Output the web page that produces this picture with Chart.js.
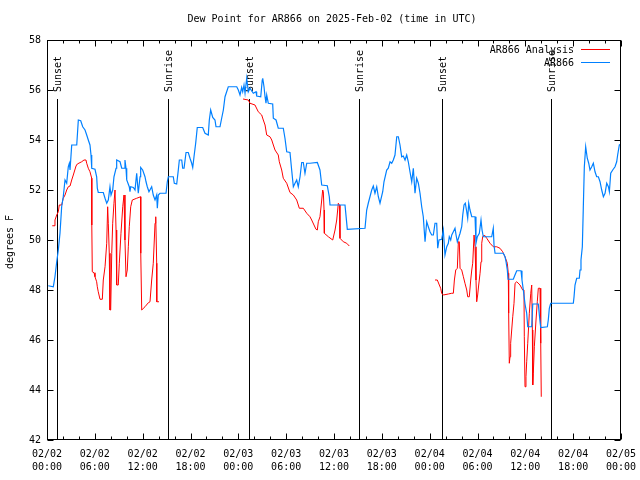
<!DOCTYPE html>
<html lang="en">
<head>
<meta charset="UTF-8">
<title>Dew Point for AR866</title>
<script src="https://cdn.jsdelivr.net/npm/chart.js"></script>
<style>
  body { margin: 0; background: #fff; }
  #wrap { width: 640px; height: 480px; }
</style>
</head>
<body>
<div id="wrap"><canvas id="dewChart" width="640" height="480"></canvas></div>
<script>
// time axis = hours since 02/02 00:00 UTC
const obsHours = [0.16,0.79,1.00,1.22,1.42,1.63,1.84,2.04,2.26,2.47,2.67,2.80,2.89,3.10,3.73,3.93,4.23,4.48,4.77,4.98,5.18,5.39,5.52,5.61,6.02,6.23,6.31,6.43,7.06,7.28,7.49,7.69,7.90,8.03,8.24,8.40,8.66,8.74,9.16,9.37,9.66,9.78,9.91,10.00,10.32,10.41,10.50,10.83,11.04,11.25,11.45,11.67,11.75,12.00,12.29,12.42,12.58,12.79,13.13,13.33,13.55,13.76,13.84,13.96,14.17,14.93,15.09,15.22,15.84,15.97,16.27,16.47,16.60,16.90,17.02,17.19,17.44,17.72,17.94,18.15,18.28,18.44,18.65,18.85,19.53,19.82,20.23,20.36,20.53,20.79,21.07,21.20,21.70,21.91,22.12,22.33,22.74,23.80,24.00,24.21,24.42,24.55,24.71,24.84,25.05,25.25,25.46,25.88,26.22,26.30,26.81,27.00,27.06,27.22,27.35,27.47,27.56,27.76,28.31,28.39,28.73,29.01,29.64,29.85,30.07,30.48,30.69,30.90,31.11,31.32,31.52,31.74,31.95,32.15,32.36,32.58,32.99,33.91,34.24,34.46,35.16,35.41,35.50,37.38,37.67,39.89,40.10,40.30,40.73,40.93,41.14,41.36,41.56,41.77,42.11,42.27,42.61,42.81,43.03,43.24,43.44,43.65,43.87,44.07,44.28,44.49,44.69,44.91,45.12,45.32,45.53,45.75,45.95,46.16,46.37,46.58,46.79,47.00,47.20,47.42,47.63,47.83,48.04,48.26,48.46,48.67,48.88,49.01,49.17,49.51,49.71,49.92,50.14,50.34,50.46,50.64,50.77,50.97,51.18,51.31,51.47,51.81,52.02,52.15,52.31,52.47,52.65,52.77,52.90,53.06,53.28,53.69,53.81,53.98,54.23,54.44,54.57,54.73,55.16,55.78,55.98,56.07,56.20,57.24,57.45,57.58,57.74,57.83,58.49,58.70,58.92,59.46,59.58,59.75,59.96,60.17,60.30,60.80,60.93,61.63,61.76,61.93,62.76,62.88,63.01,63.18,66.02,66.11,66.23,66.44,66.77,66.86,66.98,67.15,67.27,67.40,67.57,67.77,67.95,68.11,68.33,68.53,68.74,68.95,69.16,69.37,69.58,69.79,70.00,70.21,70.42,70.54,70.71,70.96,71.25,71.46,71.58,71.79,71.87];
const obsDew = [48.17,48.13,48.53,49.13,49.60,50.27,51.33,51.73,52.40,52.27,52.93,53.07,52.80,53.80,53.80,54.80,54.77,54.53,54.40,54.20,54.00,53.80,53.40,52.87,52.83,52.53,52.07,51.90,51.90,51.67,51.47,51.60,52.13,51.80,52.00,52.53,52.87,53.20,53.13,52.87,52.87,53.20,52.87,52.40,52.13,51.93,52.13,52.10,52.00,52.67,51.87,52.53,52.90,52.80,52.53,52.33,52.13,51.93,52.13,51.80,51.60,51.80,51.27,51.80,51.87,51.87,52.33,52.53,52.53,52.27,52.24,52.80,53.20,53.20,52.87,52.87,53.50,53.50,53.27,53.07,52.90,53.33,53.87,54.50,54.50,54.27,54.20,54.80,55.20,54.90,54.80,54.53,54.53,54.87,55.20,55.73,56.13,56.13,56.00,55.80,56.10,55.93,56.20,55.87,56.47,55.93,56.07,55.87,55.93,55.76,55.73,56.40,56.47,56.13,55.73,55.47,55.80,55.47,55.44,54.87,54.80,54.47,54.47,54.07,53.53,53.50,52.80,52.13,52.27,52.40,52.13,52.53,53.10,53.10,52.67,53.07,53.07,53.10,52.80,52.20,52.17,51.73,51.40,51.40,50.43,50.47,51.20,51.47,52.00,52.16,51.87,52.13,51.73,51.47,51.93,52.33,52.80,52.87,53.13,53.07,53.20,53.40,54.13,54.13,53.80,53.33,53.36,53.20,53.40,53.13,52.73,52.33,52.87,51.87,52.47,52.27,51.87,51.33,50.93,49.93,50.73,50.53,50.33,50.20,50.20,50.67,50.67,49.67,50.00,50.03,50.40,49.40,49.73,49.87,50.13,50.00,50.20,50.33,50.47,50.20,49.93,50.27,50.53,51.00,51.40,51.47,51.13,50.87,51.47,51.20,50.93,50.93,49.87,50.13,50.27,50.80,50.40,50.13,50.13,50.13,50.47,49.80,49.47,49.47,49.33,49.13,48.80,48.43,48.43,48.60,48.77,48.77,48.40,48.00,47.44,47.07,46.53,46.53,47.44,47.44,47.00,46.50,46.53,46.80,47.27,47.47,47.47,47.73,48.20,48.47,48.47,48.80,49.20,49.73,51.27,52.93,53.73,53.27,53.07,52.80,52.93,53.07,52.73,52.53,52.53,52.33,52.00,51.73,51.87,52.27,52.13,51.93,52.67,52.80,52.93,53.13,53.40,53.80,53.84];

// analysis series, null = no analysis (line break)
const anaHours = [0.66,0.88,1.00,1.22,1.42,1.54,1.84,2.04,2.26,2.47,2.67,2.89,3.10,3.30,3.64,3.80,4.35,4.64,4.89,4.98,5.18,5.39,5.61,5.62,5.68,5.90,6.02,6.23,6.31,6.43,6.65,6.94,7.06,7.28,7.49,7.61,7.69,7.81,7.90,7.99,8.12,8.24,8.40,8.53,8.66,8.74,8.94,9.07,9.28,9.50,9.66,9.78,9.91,10.07,10.20,10.32,10.50,10.70,11.25,11.75,11.76,11.88,12.29,12.71,12.92,13.13,13.33,13.46,13.55,13.64,13.76,13.77,14.05,
  19.00,
  24.59,25.25,25.46,26.09,26.50,26.93,27.13,27.35,27.56,27.97,28.19,28.39,28.60,29.01,29.14,29.44,29.64,30.07,30.48,30.90,31.32,31.65,32.15,32.58,32.99,33.20,33.49,33.74,33.91,34.03,34.24,34.46,34.58,34.66,34.75,34.79,35.29,35.84,36.13,36.34,36.54,36.67,36.75,37.17,37.59,37.92,
  43.00,
  48.67,48.96,49.21,49.38,49.51,49.71,50.34,50.77,50.97,51.10,51.27,51.47,51.60,51.72,51.81,52.02,52.23,52.43,52.65,52.77,52.97,53.15,53.28,53.40,53.57,53.69,53.81,53.90,54.02,54.15,54.32,54.44,54.53,54.65,54.86,55.16,55.57,55.98,56.41,56.82,57.16,57.45,57.74,57.86,57.91,57.99,58.08,58.16,58.29,58.42,58.58,58.71,58.92,59.33,59.67,59.83,59.87,59.96,60.08,60.17,60.30,60.50,60.68,60.80,60.88,60.93,61.00,61.13,61.34,61.50,61.63,61.84,61.93,62.00];
const anaDew = [50.57,50.57,50.80,51.00,51.13,51.40,51.40,51.67,51.80,52.00,52.13,52.16,52.40,52.60,52.96,53.04,53.13,53.20,53.20,53.07,52.87,52.73,52.47,50.60,48.73,48.69,48.53,48.33,48.13,47.93,47.63,47.63,48.40,48.93,49.87,51.33,50.67,49.47,47.20,47.20,49.47,50.67,51.47,52.00,50.40,48.20,48.20,49.07,50.27,51.33,51.80,50.00,48.53,48.80,49.73,50.53,51.33,51.60,51.67,51.73,49.47,47.20,47.33,47.49,47.53,48.40,49.07,50.00,50.67,50.93,49.07,47.53,47.53,
  null,
  55.64,55.60,55.47,55.40,55.13,55.00,54.80,54.60,54.20,54.13,54.00,53.80,53.60,53.40,53.13,52.80,52.47,52.27,51.90,51.80,51.60,51.27,51.27,51.07,50.93,50.80,50.60,50.43,50.40,50.73,50.93,51.60,52.00,51.93,51.20,50.27,50.13,50.00,50.40,50.80,51.47,51.40,50.07,49.93,49.87,49.76,
  null,
  48.40,48.40,48.20,48.07,47.87,47.80,47.84,47.87,47.87,48.40,48.80,48.87,49.93,49.93,48.87,48.80,48.53,48.27,48.00,47.73,47.73,48.40,48.80,49.07,50.20,49.73,48.40,47.53,47.80,48.20,48.67,49.13,49.87,50.13,50.20,50.07,49.87,49.73,49.73,49.67,49.53,49.33,49.07,48.67,47.07,45.07,45.33,45.87,46.40,46.93,47.47,48.27,48.33,48.20,48.00,48.00,46.13,44.13,44.53,45.13,45.87,47.07,47.87,48.20,46.40,44.20,44.67,45.73,46.80,47.53,48.07,48.07,45.87,43.73];

const xTickLabels = [['02/02','00:00'],['02/02','06:00'],['02/02','12:00'],['02/02','18:00'],
  ['02/03','00:00'],['02/03','06:00'],['02/03','12:00'],['02/03','18:00'],
  ['02/04','00:00'],['02/04','06:00'],['02/04','12:00'],['02/04','18:00'],['02/05','00:00']];

const sunHours = [1.29, 15.22, 25.38, 39.17, 49.49, 63.22];
const sunLabels = ['Sunset', 'Sunrise', 'Sunset', 'Sunrise', 'Sunset', 'Sunrise'];

const FONT = '10px "DejaVu Sans Mono", monospace';

function toPoints(hours, vals) {
  return hours.map((h, i) => ({ x: h, y: vals[i] }));
}

// gnuplot style frame, inward ticks, sun markers, legend and titles
const gnuFrame = {
  id: 'gnuFrame',
  beforeDatasetsDraw(chart) {
    const { ctx, chartArea: a, scales: { x } } = chart;
    ctx.save();
    ctx.strokeStyle = '#000';
    ctx.fillStyle = '#000';
    ctx.lineWidth = 1;
    ctx.font = FONT;
    sunHours.forEach((h, i) => {
      const px = Math.round(x.getPixelForValue(h)) + 0.5;
      ctx.beginPath();
      ctx.moveTo(px, a.top + 59);
      ctx.lineTo(px, a.bottom);
      ctx.stroke();
      ctx.save();
      ctx.translate(px + 1, a.top + 52);
      ctx.rotate(-Math.PI / 2);
      ctx.textAlign = 'left';
      ctx.textBaseline = 'middle';
      ctx.fillText(sunLabels[i], 0, 0);
      ctx.restore();
    });
    ctx.restore();
  },
  afterDraw(chart) {
    const { ctx, chartArea: a, scales: { x, y } } = chart;
    const L = a.left + 0.5, R = a.right - 0.5, T = a.top + 0.5, B = a.bottom - 0.5;
    ctx.save();
    ctx.strokeStyle = '#000';
    ctx.lineWidth = 1;
    ctx.strokeRect(L, T, R - L, B - T);

    ctx.beginPath();
    for (let h = 0; h <= 72; h += 2) {
      const px = Math.round(x.getPixelForValue(h)) + 0.5;
      const len = h % 6 === 0 ? 6 : 3;
      ctx.moveTo(px, B); ctx.lineTo(px, B - len);
      ctx.moveTo(px, T); ctx.lineTo(px, T + len);
    }
    for (let v = 42; v <= 58; v += 2) {
      const py = Math.round(y.getPixelForValue(v)) + 0.5;
      ctx.moveTo(L, py); ctx.lineTo(L + 6, py);
      ctx.moveTo(R, py); ctx.lineTo(R - 6, py);
    }
    ctx.stroke();

    ctx.fillStyle = '#000';
    ctx.font = FONT;
    ctx.textAlign = 'center';
    ctx.textBaseline = 'middle';
    ctx.fillText('Dew Point for AR866 on 2025-Feb-02 (time in UTC)', 332, 19);

    ctx.save();
    ctx.translate(10, 242);
    ctx.rotate(-Math.PI / 2);
    ctx.fillText('degrees F', 0, 0);
    ctx.restore();

    // legend
    ctx.textAlign = 'right';
    chart.data.datasets.forEach((ds, i) => {
      const ly = 50 + i * 13;
      ctx.fillStyle = '#000';
      ctx.fillText(ds.label, 574, ly);
      ctx.strokeStyle = ds.borderColor;
      ctx.beginPath();
      ctx.moveTo(581, ly - 0.5);
      ctx.lineTo(610, ly - 0.5);
      ctx.stroke();
    });
    ctx.restore();
  }
};

const chart = new Chart(document.getElementById('dewChart'), {
  type: 'scatter',
  data: {
    datasets: [{
      label: 'AR866 Analysis',
      data: toPoints(anaHours, anaDew),
      borderColor: '#ff0000',
      backgroundColor: '#ff0000',
      showLine: true,
      borderWidth: 1,
      pointRadius: 0,
      spanGaps: false,
      order: 1
    }, {
      label: 'AR866',
      data: toPoints(obsHours, obsDew),
      borderColor: '#0080ff',
      backgroundColor: '#0080ff',
      showLine: true,
      borderWidth: 1.2,
      pointRadius: 0,
      spanGaps: false,
      order: 0
    }]
  },
  options: {
    responsive: false,
    animation: false,
    devicePixelRatio: 1,
    layout: { padding: { top: 40, right: 19, left: 0, bottom: 0 } },
    plugins: { legend: { display: false }, tooltip: { enabled: false } },
    scales: {
      x: {
        type: 'linear',
        min: 0,
        max: 72,
        grid: { display: false, drawTicks: false },
        border: { display: false },
        afterFit: (s) => { s.height = 40; s.paddingLeft = 0; s.paddingRight = 0; },
        ticks: {
          stepSize: 6,
          autoSkip: false,
          maxRotation: 0,
          padding: 8,
          color: '#000',
          font: { family: '"DejaVu Sans Mono", monospace', size: 10, lineHeight: 1.3 },
          callback: (v) => xTickLabels[Math.round(v / 6)]
        }
      },
      y: {
        min: 42,
        max: 58,
        grid: { display: false, drawTicks: false },
        border: { display: false },
        afterFit: (s) => { s.width = 47; s.paddingTop = 0; s.paddingBottom = 0; },
        ticks: {
          stepSize: 2,
          padding: 6,
          color: '#000',
          font: { family: '"DejaVu Sans Mono", monospace', size: 10 }
        }
      }
    }
  },
  plugins: [gnuFrame]
});
</script>
</body>
</html>
